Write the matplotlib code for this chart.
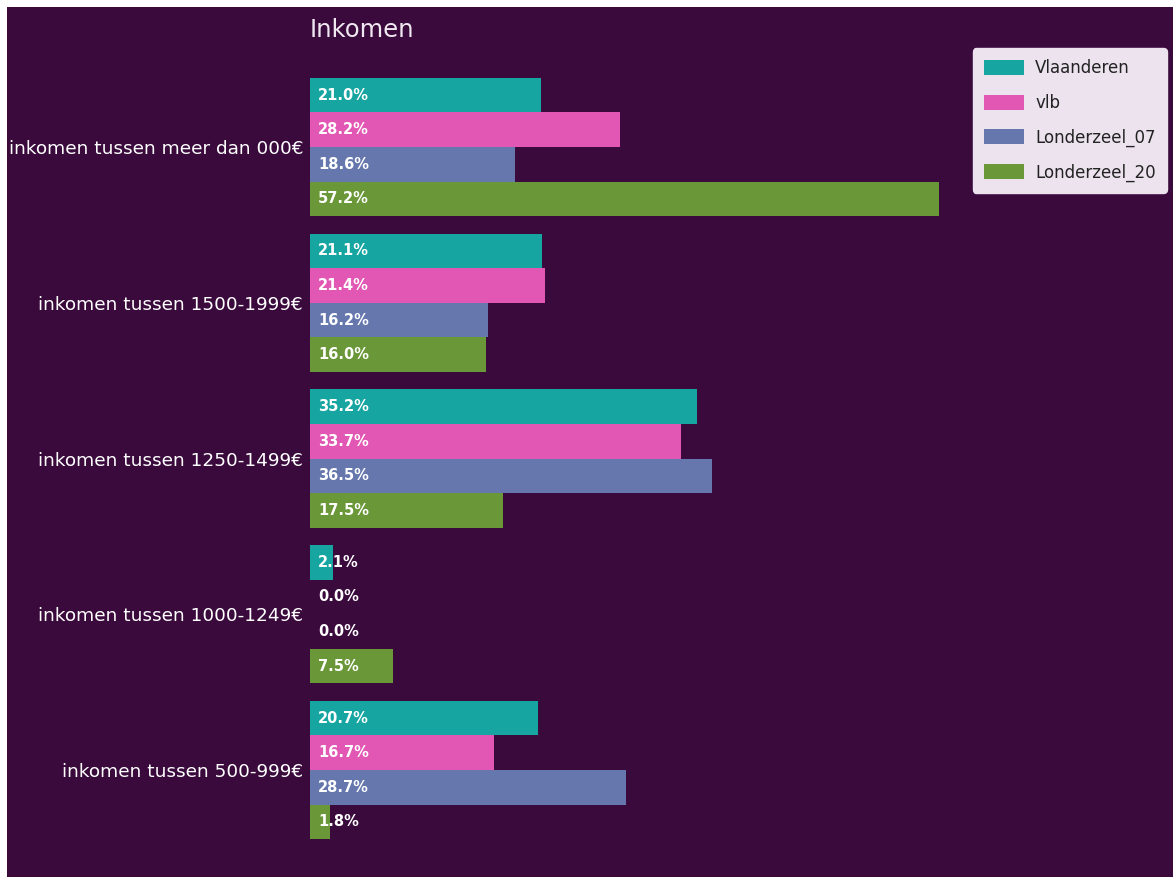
import matplotlib
matplotlib.use("Agg")
import matplotlib.pyplot as plt
import numpy as np
from matplotlib.patches import Rectangle

categories = ["inkomen tussen 500-999€", "inkomen tussen 1000-1249€",
              "inkomen tussen 1250-1499€", "inkomen tussen 1500-1999€",
              "inkomen tussen meer dan 000€"]
series_names = ["Vlaanderen", "vlb", "Londerzeel_07", "Londerzeel_20"]
vlaanderen = [20.7, 2.1, 35.2, 21.1, 21.0]
vlb = [16.7, 0.0, 33.7, 21.4, 28.2]
londerzeel_07 = [28.7, 0.0, 36.5, 16.2, 18.6]
londerzeel_20 = [1.8, 7.5, 17.5, 16.0, 57.2]

colors = ["#16a5a1", "#e257b3", "#6577ad", "#6a9738"]
bg = "#3a0a3d"

W, H = 1173, 877
fig = plt.figure(figsize=(W / 100, H / 100), dpi=100, facecolor=bg)
# white border strips of the screenshot
fig.patches.append(Rectangle((0, 1 - 7 / H), 1, 7 / H, transform=fig.transFigure,
                             facecolor="white", edgecolor="none", zorder=-1))
fig.patches.append(Rectangle((0, 0), 7 / W, 1, transform=fig.transFigure,
                             facecolor="white", edgecolor="none", zorder=-1))

ax_left, ax_right, ax_top, ax_bottom = 310, 1170, 45, 877
ax = fig.add_axes([ax_left / W, 1 - ax_bottom / H, (ax_right - ax_left) / W,
                   (ax_bottom - ax_top) / H])
ax.set_facecolor(bg)

data = [vlaanderen, vlb, londerzeel_07, londerzeel_20]
y = np.arange(len(categories))
h = 0.222
offsets = [1.5, 0.5, -0.5, -1.5]
for vals, name, c, off in zip(data, series_names, colors, offsets):
    ax.barh(y + off * h, vals, height=h, color=c, label=name)
    for yi, v in zip(y, vals):
        ax.text(0.75, yi + off * h, f"{v:.1f}%", color="white", fontsize=10.5,
                fontweight="bold", va="center", ha="left")

ax.set_yticks(y)
ax.set_yticklabels(categories, color="white", fontsize=13.3)
ax.tick_params(axis="y", length=0, pad=5)
ax.set_xticks([])
for s in ax.spines.values():
    s.set_visible(False)

ppu = 155.75
ax.set_ylim(-(ax_bottom - 770) / ppu, 4 + (147 - ax_top) / ppu)
ax.set_xlim(0, (ax_right - ax_left) / 11.0)

ax.set_title("Inkomen", loc="left", color="#f0e8f0", fontsize=17.5, pad=6)

leg = ax.legend(loc="upper right", fontsize=12, facecolor="#ece3ee",
                edgecolor="#ece3ee", framealpha=1, borderaxespad=0.2,
                handlelength=2.4, handleheight=1.0, labelspacing=1.0,
                borderpad=0.65, handletextpad=0.7)
for t in leg.get_texts():
    t.set_color("#222222")

fig.savefig("out.png", dpi=100, facecolor=fig.get_facecolor())
